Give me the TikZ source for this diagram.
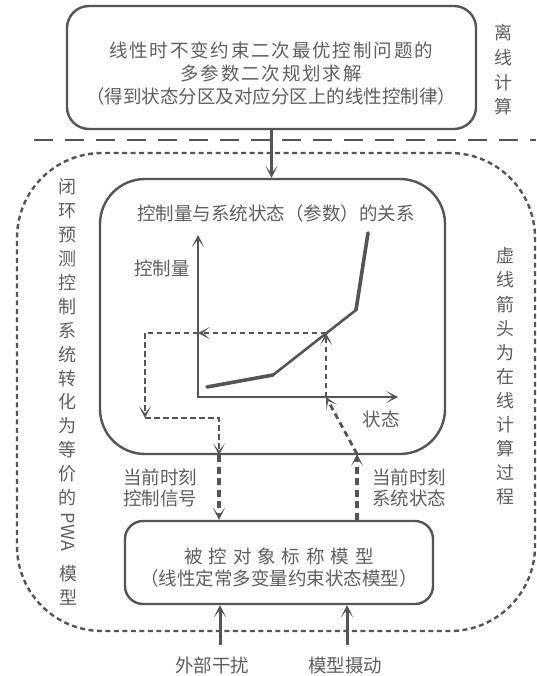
\documentclass[tikz,border=0pt]{standalone}
\usepackage{fontspec}
\setmainfont{Noto Sans CJK SC}
\newfontfamily\lsA[LetterSpace=10]{Noto Sans CJK SC}
\newfontfamily\lsB[LetterSpace=32]{Noto Sans CJK SC}
\usetikzlibrary{arrows.meta,calc}
\definecolor{lc}{RGB}{85,85,85}
\definecolor{tc}{RGB}{95,95,95}
\tikzset{
  box/.style={draw=lc, line width=2.4pt, inner sep=0pt},
  txt/.style={text=tc, font=\fontsize{18.5}{23}\selectfont, inner sep=0pt, align=center},
  vch/.style={text=tc, font=\fontsize{18}{18}\selectfont, inner sep=0pt},
  tip/.tip={Stealth[length=12pt,width=12pt,inset=7.5pt]},
  arr/.style={-tip},
  thindash/.style={draw=lc, line width=2.3pt, dash pattern=on 5.5pt off 3.5pt},
  middash/.style={draw=lc, line width=2.8pt, dash pattern=on 6pt off 4pt},
  thickdash/.style={draw=lc, line width=3.4pt, dash pattern=on 7pt off 4.5pt},
  loopline/.style={draw=lc, line width=2.4pt, dash pattern=on 5pt off 3.5pt, rounded corners=85pt, inner sep=0pt},
  sepline/.style={draw=lc, line width=2.2pt, dash pattern=on 19pt off 12pt},
  axis/.style={draw=lc, line width=1.5pt},
  curve/.style={draw=lc, line width=3.6pt, line cap=round, line join=round},
  solidarrow/.style={draw=lc, line width=3pt, arr}
}
\begin{document}
\begin{tikzpicture}[x=1pt,y=-1pt]
\useasboundingbox[fill=white] (0,0) rectangle (536,676);

% boxes
\node[box, rounded corners=22pt, minimum width=409pt, minimum height=123pt] (top) at (271.5,67.5) {};
\node[box, rounded corners=45pt, minimum width=345pt, minimum height=275pt] (inner) at (272.5,316.5) {};
\node[box, rounded corners=18pt, minimum width=308pt, minimum height=83pt] (plant) at (279,562.5) {};
\node[loopline, minimum width=518pt, minimum height=478pt] (loop) at (276,392) {};

% separator
\coordinate (s1) at (34,140);
\coordinate (s2) at (536,140);
\draw[sepline] (s1) -- (s2);

% offline -> online
\draw[draw=lc, line width=3pt, arr] (top.south) -- (top.south |- inner.north);

% texts
\node[txt] (toptxt) at (271,74) {{\lsA 线性时不变约束二次最优控制问题的}\\{\lsA 多参数二次规划求解}\\（得到状态分区及对应分区上的线性控制律）};
\node[txt] (title) at (276,213) {控制量与系统状态（参数）的关系};
\node[txt] (ylab) at (162,268) {控制量};
\node[txt] (xlab) at (381,419) {状态};
\node[txt, font=\fontsize{18.5}{21}\selectfont] (ctl) at (160,488) {当前时刻\\控制信号};
\node[txt, font=\fontsize{18.5}{21}\selectfont] (st) at (409,488) {当前时刻\\系统状态};
\node[txt, font=\fontsize{18.5}{22}\selectfont] (plt) at (279,568) {{\lsB 被控对象标称模型}\\（线性定常多变量约束状态模型）};
\node[txt] (dist) at (212,665) {外部干扰};
\node[txt] (pert) at (345,665) {模型摄动};

% vertical labels
\foreach \c [count=\i] in {离,线,计,算}
  \node[vch] (off\i) at (503,{33+24.6*(\i-1)}) {\c};
\foreach \c [count=\i] in {闭,环,预,测,控,制,系,统,转,化,为,等,价,的}
  \node[vch] (cl\i) at (67,{187+23.9*(\i-1)}) {\c};
\node[vch, rotate=-90] (pwa) at (68,532) {PWA};
\node[vch] (mo) at (68,574) {模};
\node[vch] (xing) at (68,597) {型};
\foreach \c [count=\i] in {虚,线,箭,头,为,在,线,计,算,过,程}
  \node[vch] (on\i) at (505,{256+24.1*(\i-1)}) {\c};

% graph
\coordinate (O) at (198,397);
\coordinate (Ytip) at (198,235);
\coordinate (Xtip) at (398,397);
\draw[axis, tip-tip] (Ytip) -- (O) -- (Xtip);
\coordinate (P1) at (207,387);
\coordinate (P2) at (273,375);
\coordinate (P3) at (356,310);
\coordinate (P4) at (368,233);
\draw[curve] (P1) -- (P2);
\draw[curve, line width=2.6pt] (P2) -- (P3);
\draw[curve] (P3) -- (P4);

\coordinate (Q) at (326,333);
\coordinate (Qx) at (Q |- O);
\coordinate (Qy) at (Q -| O);
\coordinate (L1) at (145,333);
\coordinate (L2) at (145,418);
\coordinate (L3) at (219,418);
\draw[thindash, arr] (Qx) -- (Q);
\draw[thindash, arr] (Q) -- (Qy);
\draw[thindash] (Qy) -- (L1);
\draw[thindash, arr] (L1) -- (L2);
\draw[thindash, arr] (L2) -- (L3) -- (L3 |- inner.south);

\coordinate (D) at (357,454);
\draw[middash, arr] (D) -- (Qx);

% between boxes
\draw[thickdash, arr] (L3 |- inner.south) -- (L3 |- plant.north);
\draw[thickdash, arr] (D |- plant.north) -- (D);

% external inputs
\coordinate (e1) at (220,645);
\coordinate (e2) at (347,645);
\draw[solidarrow] (e1) -- (e1 |- plant.south);
\draw[solidarrow] (e2) -- (e2 |- plant.south);
\end{tikzpicture}
\end{document}
